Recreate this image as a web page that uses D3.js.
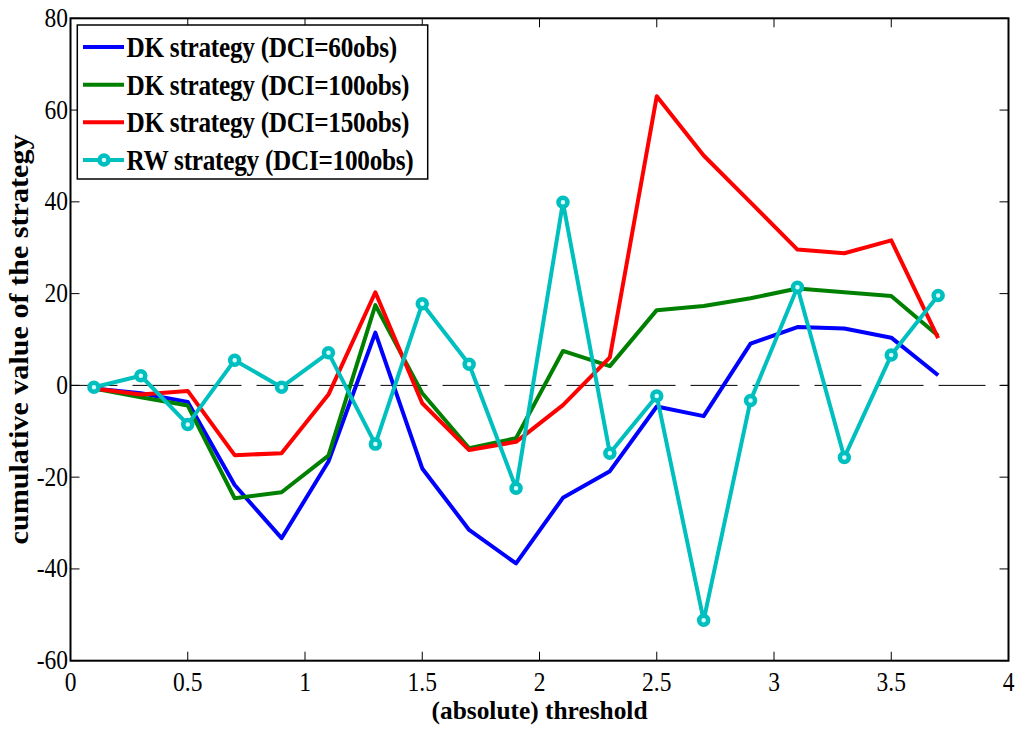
<!DOCTYPE html>
<html>
<head>
<meta charset="utf-8">
<script src="https://cdn.jsdelivr.net/npm/d3@7"></script>
<style>
  html, body { margin: 0; padding: 0; background: #fff; }
  svg { display: block; }
</style>
</head>
<body>
<svg id="chart" width="1020" height="729"></svg>
<script>
// ---------- data ----------
const thresholds = [0.1, 0.3, 0.5, 0.7, 0.9, 1.1, 1.3, 1.5, 1.7, 1.9, 2.1, 2.3, 2.5, 2.7, 2.9, 3.1, 3.3, 3.5, 3.7];
const dk60  = [-0.7, -1.7, -3.6, -21.7, -33.3, -16.6, 11.5, -18.1, -31.5, -38.8, -24.5, -18.7, -4.6, -6.7, 9.1, 12.7, 12.4, 10.4, 2.2];
const dk100 = [-0.7, -2.6, -4.4, -24.6, -23.3, -15.3, 17.5, -1.7, -13.7, -11.5, 7.5, 4.2, 16.4, 17.3, 19.0, 21.1, 20.3, 19.5, 10.8];
const dk150 = [-0.7, -2.0, -1.2, -15.2, -14.8, -2.0, 20.3, -3.9, -14.1, -12.3, -4.3, 6.1, 63.0, 50.1, 39.9, 29.6, 28.8, 31.6, 10.3];
const rw100 = [-0.4, 2.1, -8.5, 5.5, -0.4, 7.1, -12.8, 17.8, 4.6, -22.4, 39.9, -14.8, -2.3, -51.2, -3.3, 21.4, -15.7, 6.6, 19.6];
const seriesNames = ["DK strategy (DCI=60obs)", "DK strategy (DCI=100obs)", "DK strategy (DCI=150obs)", "RW strategy (DCI=100obs)"];
const seriesColors = ["#0000ff", "#008000", "#ff0000", "#00bfbf"];
const xTicks = [0, 0.5, 1, 1.5, 2, 2.5, 3, 3.5, 4];
const xTickLabels = ["0", "0.5", "1", "1.5", "2", "2.5", "3", "3.5", "4"];
const yTicks = [-60, -40, -20, 0, 20, 40, 60, 80];
const yTickLabels = ["-60", "-40", "-20", "0", "20", "40", "60", "80"];
const xTitle = "(absolute) threshold";
const yTitle = "cumulative value of the strategy";

const seriesData = [dk60, dk100, dk150, rw100];
const series = seriesNames.map((name, i) => ({
  name, color: seriesColors[i], marker: i === 3,
  points: thresholds.map((t, j) => ({ x: t, y: seriesData[i][j] }))
}));

// ---------- layout ----------
const FONT = "Liberation Serif";
const L = 70.5, R = 1008.5, T = 18.3, B = 660.7;
const x = d3.scaleLinear().domain([0, 4]).range([L, R]);
const y = d3.scaleLinear().domain([-60, 80]).range([B, T]);
const svg = d3.select("#chart").attr("font-family", FONT);
const condense = 0.84;

// zero dashed line
svg.append("line")
  .attr("x1", x(0)).attr("x2", x(4)).attr("y1", y(0)).attr("y2", y(0))
  .attr("stroke", "#000").attr("stroke-width", 1)
  .attr("stroke-dasharray", "47 15");

// series lines
const line = d3.line().x(d => x(d.x)).y(d => y(d.y));
series.forEach(s => {
  svg.append("path")
    .datum(s.points)
    .attr("d", line)
    .attr("fill", "none")
    .attr("stroke", s.color)
    .attr("stroke-width", 4)
    .attr("stroke-linejoin", "round");
  if (s.marker) {
    svg.append("g").selectAll("circle").data(s.points).join("circle")
      .attr("cx", d => x(d.x)).attr("cy", d => y(d.y))
      .attr("r", 4.5)
      .attr("fill", "#d8ffff")
      .attr("stroke", s.color).attr("stroke-width", 4.5);
  }
});

// axes (box with inward ticks)
const tickLen = 9;
const axG = svg.append("g");
axG.append("rect").attr("x", L).attr("y", T).attr("width", R - L).attr("height", B - T)
  .attr("fill", "none").attr("stroke", "#000").attr("stroke-width", 2);
xTicks.forEach(t => {
  axG.append("line").attr("x1", x(t)).attr("x2", x(t)).attr("y1", B).attr("y2", B - tickLen)
    .attr("stroke", "#000").attr("stroke-width", 1);
  axG.append("line").attr("x1", x(t)).attr("x2", x(t)).attr("y1", T).attr("y2", T + tickLen)
    .attr("stroke", "#000").attr("stroke-width", 1);
});
yTicks.forEach(t => {
  axG.append("line").attr("x1", L).attr("x2", L + tickLen).attr("y1", y(t)).attr("y2", y(t))
    .attr("stroke", "#000").attr("stroke-width", 1);
  axG.append("line").attr("x1", R).attr("x2", R - tickLen).attr("y1", y(t)).attr("y2", y(t))
    .attr("stroke", "#000").attr("stroke-width", 1);
});

// tick labels
xTicks.forEach((t, i) => {
  svg.append("text")
    .attr("transform", `translate(${x(t)},${691}) scale(${condense},1)`)
    .attr("text-anchor", "middle")
    .attr("font-family", FONT)
    .attr("font-size", 28)
    .text(xTickLabels[i]);
});
yTicks.forEach((t, i) => {
  svg.append("text")
    .attr("transform", `translate(${68},${y(t) + 8.5}) scale(${condense},1)`)
    .attr("text-anchor", "end")
    .attr("font-family", FONT)
    .attr("font-size", 28)
    .text(yTickLabels[i]);
});

// axis titles
svg.append("text")
  .attr("x", (L + R) / 2).attr("y", 719)
  .attr("text-anchor", "middle")
  .attr("font-family", FONT)
  .attr("font-size", 25).attr("font-weight", "bold")
  .attr("textLength", 216).attr("lengthAdjust", "spacingAndGlyphs")
  .text(xTitle);
svg.append("text")
  .attr("transform", `translate(28,${(T + B) / 2}) rotate(-90)`)
  .attr("text-anchor", "middle")
  .attr("font-family", FONT)
  .attr("font-size", 28).attr("font-weight", "bold")
  .attr("textLength", 410).attr("lengthAdjust", "spacingAndGlyphs")
  .text(yTitle);

// legend
const lg = svg.append("g");
lg.append("rect").attr("x", 77.3).attr("y", 25).attr("width", 350.4).attr("height", 154)
  .attr("fill", "#fff").attr("stroke", "#000").attr("stroke-width", 1.5);
const rowY = [47, 84.7, 122.3, 160];
series.forEach((s, i) => {
  lg.append("line").attr("x1", 83).attr("x2", 124).attr("y1", rowY[i]).attr("y2", rowY[i])
    .attr("stroke", s.color).attr("stroke-width", 4);
  if (s.marker) {
    lg.append("circle").attr("cx", 104).attr("cy", rowY[i]).attr("r", 4.5)
      .attr("fill", "#d8ffff").attr("stroke", s.color).attr("stroke-width", 4.5);
  }
  lg.append("text")
    .attr("transform", `translate(126.5,${rowY[i] + 10}) scale(0.87,1)`)
    .attr("font-family", FONT)
    .attr("font-size", 29).attr("font-weight", "bold")
    .attr("letter-spacing", -0.3)
    .text(s.name);
});
</script>
</body>
</html>
